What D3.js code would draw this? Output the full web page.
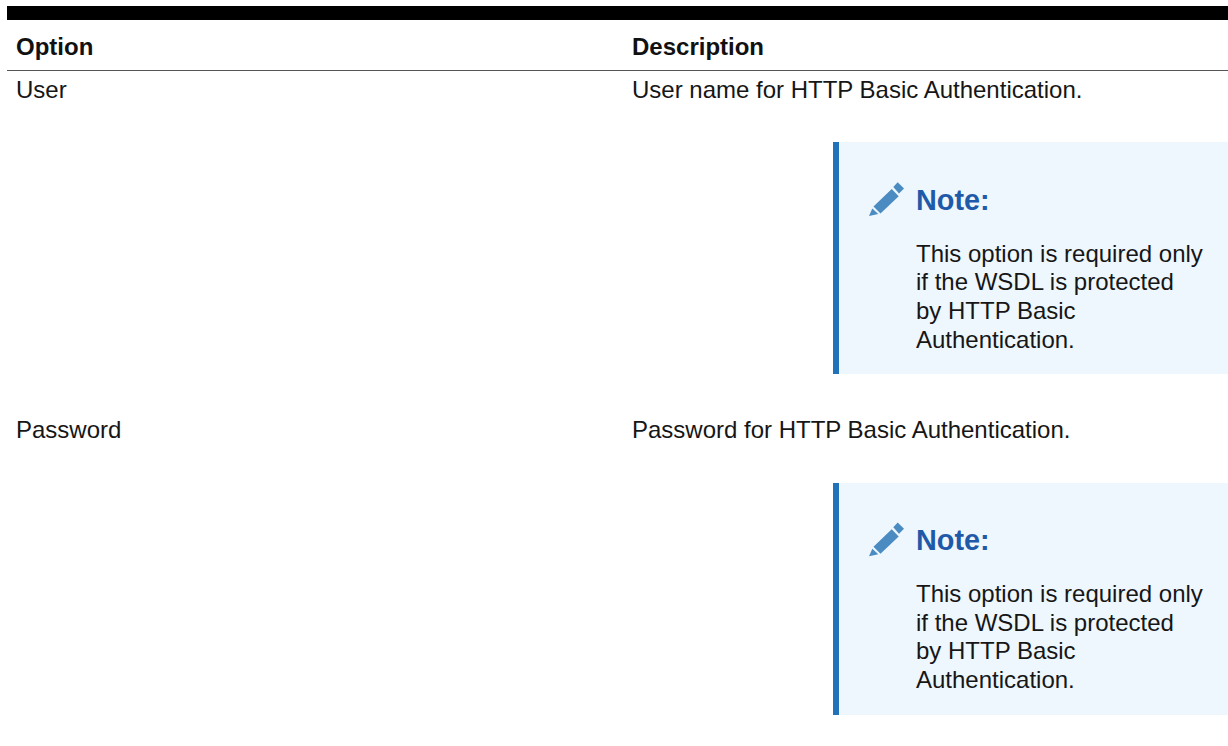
<!DOCTYPE html>
<html><head><meta charset="utf-8">
<script src="https://cdn.jsdelivr.net/npm/d3@7"></script>
<style>html,body{margin:0;background:#fff}svg{display:block}text{font-family:"Liberation Sans",Arial,sans-serif;font-size:24px;fill:#161616}</style>
</head><body><svg id="c" width="1228" height="746"></svg>
<script>
const columns = ["Option", "Description"];
const options = ["User", "Password"];
const descriptions = ["User name for HTTP Basic Authentication.", "Password for HTTP Basic Authentication."];
const noteTitle = "Note:";
const noteLines = ["This option is required only", "if the WSDL is protected", "by HTTP Basic", "Authentication."];

const svg = d3.select("#c");
const colX = d3.scaleOrdinal().domain(columns).range([16, 632]);
const rowY = d3.scaleOrdinal().domain(options).range([0, 340.2]);
const panelY = d3.scaleOrdinal().domain(options).range([142, 483]);
const lineY = d3.scaleBand().domain(noteLines).range([0, 115.2]);

svg.append("rect").attr("x",7).attr("y",6).attr("width",1221).attr("height",14).attr("fill","#000");
svg.append("rect").attr("x",7).attr("y",70).attr("width",1221).attr("height",1).attr("fill","#555");
svg.selectAll("text.h").data(columns).join("text").attr("class","h")
  .attr("x",d=>colX(d)).attr("y",55).attr("font-weight","bold").style("fill","#111").text(d=>d);

svg.selectAll("rect.p").data(options).join("rect").attr("class","p")
  .attr("x",833).attr("y",d=>panelY(d)).attr("width",395).attr("height",232).attr("fill","#eef6fe");
svg.selectAll("rect.b").data(options).join("rect").attr("class","b")
  .attr("x",833).attr("y",d=>panelY(d)).attr("width",6).attr("height",232).attr("fill","#2272b9");

const rows = svg.selectAll("g.r").data(options).join("g").attr("class","r")
  .attr("transform",d=>`translate(0,${rowY(d)})`);
rows.append("text").attr("x",colX(columns[0])).attr("y",98.2).text(d=>d);
rows.append("text").attr("x",colX(columns[1])).attr("y",98.2).text((d,i)=>descriptions[i]);
const pen = rows.append("g").attr("fill","#4a8bc2");
pen.append("path").attr("d","M869,216L872.3,208.5L878.3,214Z");
pen.append("path").attr("d","M873.5,206.5L891.7,189L898.7,196.2L880.5,213.5Z");
pen.append("path").attr("d","M893.3,187L897.7,182.3L904,188.5L899,193.5Z");
rows.append("text").attr("x",916).attr("y",210).attr("font-weight","bold").style("font-size","28.8px").style("fill","#1f5aa8").text(noteTitle);
rows.each(function(){
  d3.select(this).selectAll("text.n").data(noteLines).join("text").attr("class","n")
    .attr("x",916).attr("y",d=>261.6+lineY(d)).text(d=>d);
});
</script></body></html>
